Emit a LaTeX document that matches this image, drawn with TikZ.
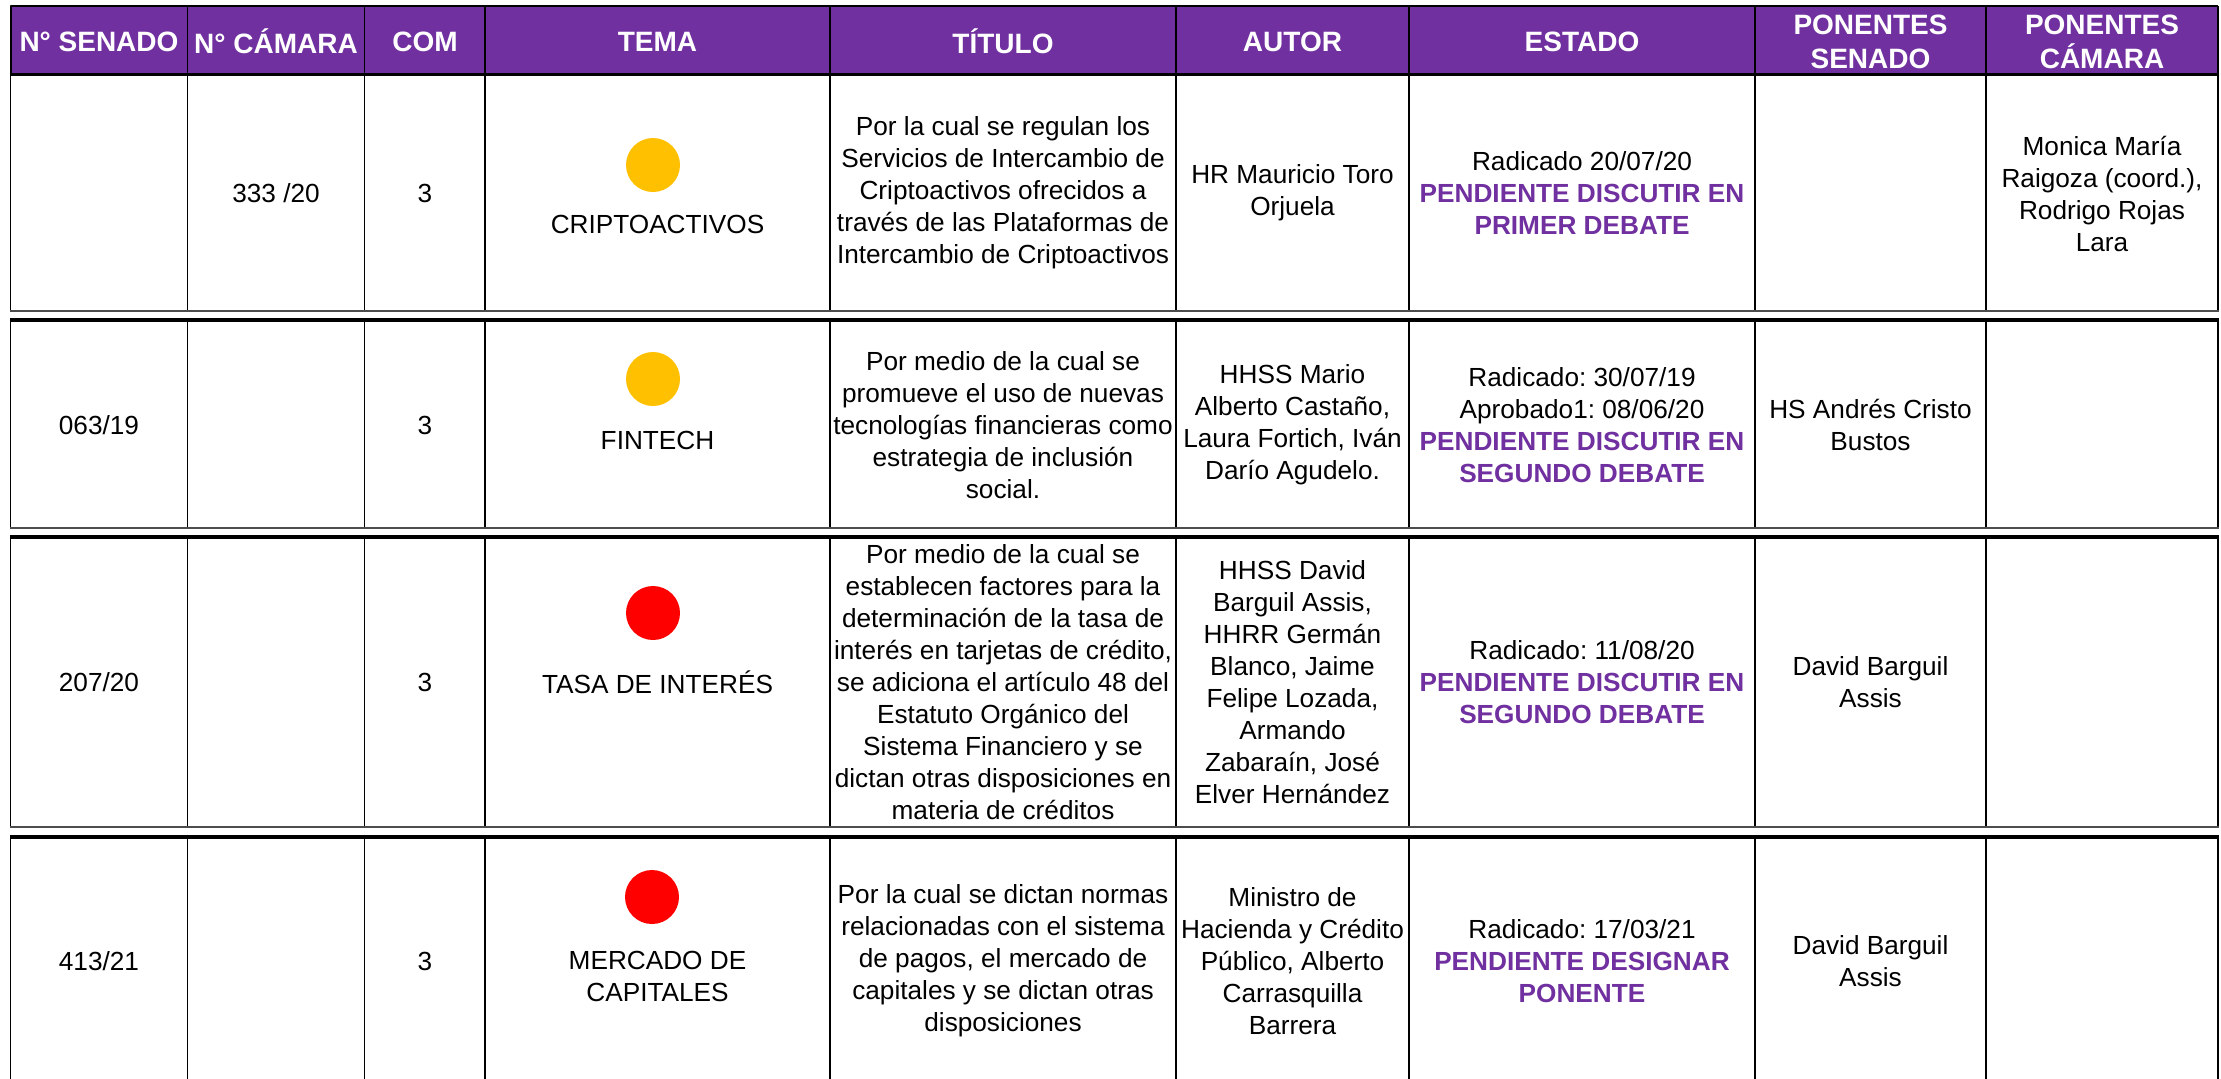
\documentclass[tikz,border=0pt]{standalone}
\usepackage{fontspec}
\setmainfont{Liberation Sans}
\frenchspacing
\definecolor{morado}{HTML}{7030A0}
\definecolor{ambar}{HTML}{FFC000}
\definecolor{rojo}{HTML}{FF0000}
\definecolor{gris}{HTML}{4D4D4D}
\newcommand\pend[1]{\textcolor{morado}{\bfseries #1}}
\begin{document}
\begin{tikzpicture}[x=0.5pt,y=-0.5pt,line join=round,
	txt/.style={inner sep=0pt,align=center,font=\fontsize{13.1}{16}\selectfont},
	hdr/.style={inner sep=0pt,align=center,text=white,font=\fontsize{14}{17}\selectfont\bfseries}]
	\useasboundingbox (0,0) rectangle (2221,1078);
	% encabezado
	\fill[morado] (10.6,6) rectangle (2218,76);
	\draw[line width=1pt] (2218,6.2) -- (10.5,6.2) -- (10.5,76);
	\foreach \xc in {187.6,364.6,485,830,1176,1409,1755,1986,2218}
		\draw[line width=0.8pt] (\xc,6) -- (\xc,76);
	\draw[line width=1.7pt] (9.5,74.5) -- (2219,74.5);
	% filas
	\foreach \ya/\yb in {76/311,320/528,537/827,837/1082}{
		\foreach \xc in {10.6,187.6,364.6,485,830,1176,1409,1755,1986,2218}
			\draw[line width=0.65pt] (\xc,\ya) -- (\xc,\yb);
		\draw[line width=0.8pt,gris] (10,\yb) -- (2219,\yb);
	}
	\foreach \ya in {320,537,837}
		\draw[line width=1.7pt] (10,\ya) -- (2219,\ya);
	% titulos
	\node[hdr] (hsen) at (99,41.5) {N° SENADO};
	\node[hdr] (hcam) at (276,41.5) {N° CÁMARA};
	\node[hdr] (hcom) at (425,41.5) {COM};
	\node[hdr] (htema) at (657.5,41.5) {TEMA};
	\node[hdr] (htit) at (1003,41.5) {TÍTULO};
	\node[hdr] (haut) at (1292.5,41.5) {AUTOR};
	\node[hdr] (hest) at (1582,41.5) {ESTADO};
	\node[hdr] (hpses) at (1870.5,42) {PONENTES\\SENADO};
	\node[hdr] (hpcam) at (2102,42) {PONENTES\\CÁMARA};
	% fila 1
	\node[txt] (cam1) at (276,193) {333 /20};
	\node[txt] (com1) at (425,193) {3};
	\fill[ambar] (653,165) circle (13.5pt);
	\node[txt] (tema1) at (657.5,224) {CRIPTOACTIVOS};
	\node[txt] (tit1) at (1003,193) {Por la cual se regulan los\\Servicios de Intercambio de\\Criptoactivos ofrecidos a\\través de las Plataformas de\\Intercambio de Criptoactivos};
	\node[txt] (aut1) at (1292.5,193) {HR Mauricio Toro\\Orjuela};
	\node[txt] (est1) at (1582,193) {Radicado 20/07/20\\\pend{PENDIENTE DISCUTIR EN}\\\pend{PRIMER DEBATE}};
	\node[txt] (pcam1) at (2102,193.5) {Monica María\\Raigoza (coord.),\\Rodrigo Rojas\\Lara};
	% fila 2
	\node[txt] (sen2) at (99,425) {063/19};
	\node[txt] (com2) at (425,425) {3};
	\fill[ambar] (653,379) circle (13.5pt);
	\node[txt] (tema2) at (657.5,440) {FINTECH};
	\node[txt] (tit2) at (1003,425) {Por medio de la cual se\\promueve el uso de nuevas\\tecnologías financieras como\\estrategia de inclusión\\social.};
	\node[txt] (aut2) at (1292.5,425) {HHSS Mario\\Alberto Castaño,\\Laura Fortich, Iván\\Darío Agudelo.};
	\node[txt] (est2) at (1582,425) {Radicado: 30/07/19\\Aprobado1: 08/06/20\\\pend{PENDIENTE DISCUTIR EN}\\\pend{SEGUNDO DEBATE}};
	\node[txt] (pses2) at (1870.5,425) {HS Andrés Cristo\\Bustos};
	% fila 3
	\node[txt] (sen3) at (99,682) {207/20};
	\node[txt] (com3) at (425,682) {3};
	\fill[rojo] (653,613) circle (13.5pt);
	\node[txt] (tema3) at (657.5,682) {TASA DE INTERÉS};
	\node[txt] (tit3) at (1003,682) {Por medio de la cual se\\establecen factores para la\\determinación de la tasa de\\interés en tarjetas de crédito,\\se adiciona el artículo 48 del\\Estatuto Orgánico del\\Sistema Financiero y se\\dictan otras disposiciones en\\materia de créditos};
	\node[txt] (aut3) at (1292.5,682) {HHSS David\\Barguil Assis,\\HHRR Germán\\Blanco, Jaime\\Felipe Lozada,\\Armando\\Zabaraín, José\\Elver Hernández};
	\node[txt] (est3) at (1582,682) {Radicado: 11/08/20\\\pend{PENDIENTE DISCUTIR EN}\\\pend{SEGUNDO DEBATE}};
	\node[txt] (pses3) at (1870.5,682) {David Barguil\\Assis};
	% fila 4
	\node[txt] (sen4) at (99,961) {413/21};
	\node[txt] (com4) at (425,961) {3};
	\fill[rojo] (652,897) circle (13.5pt);
	\node[txt] (tema4) at (657.5,976.5) {MERCADO DE\\CAPITALES};
	\node[txt] (tit4) at (1003,961) {Por la cual se dictan normas\\relacionadas con el sistema\\de pagos, el mercado de\\capitales y se dictan otras\\disposiciones};
	\node[txt] (aut4) at (1292.5,961) {Ministro de\\Hacienda y Crédito\\Público, Alberto\\Carrasquilla\\Barrera};
	\node[txt] (est4) at (1582,961) {Radicado: 17/03/21\\\pend{PENDIENTE DESIGNAR}\\\pend{PONENTE}};
	\node[txt] (pses4) at (1870.5,961) {David Barguil\\Assis};
\end{tikzpicture}
\end{document}
